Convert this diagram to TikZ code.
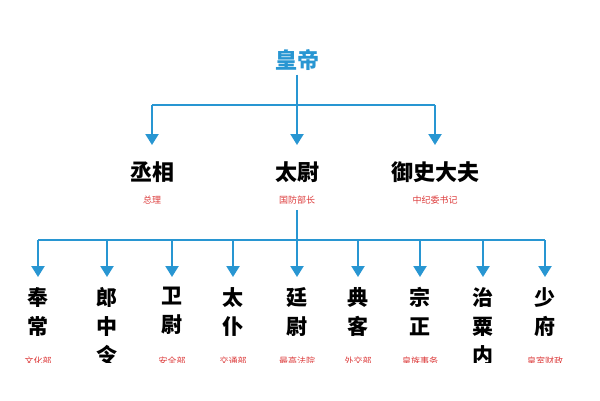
\documentclass[tikz,border=0pt]{standalone}
\usepackage{fontspec}
\setmainfont{Noto Sans CJK SC}
\usetikzlibrary{arrows.meta}
\definecolor{lblue}{RGB}{40,150,210}
\definecolor{lred}{RGB}{220,60,60}
\tikzset{x=1pt,y=-1pt,
 conn/.style={draw=lblue,line width=2.2pt},
 arr/.style={conn,-{Triangle[width=13pt,length=11pt]}},
 title/.style={font=\fontsize{22}{22}\selectfont\bfseries,inner sep=0pt},
 sub/.style={font=\fontsize{9}{9}\selectfont,text=lred,inner sep=0pt},
 vchar/.style={font=\fontsize{21}{29}\selectfont\bfseries,align=center,inner sep=0pt,anchor=north}}
\begin{document}
\begin{tikzpicture}
\useasboundingbox (0,0) rectangle (600,400);
\begin{scope}
\clip (0,0) rectangle (600,362);
\node[title,text=lblue] (hd) at (297,60) {皇帝};
\coordinate (j1) at (297,105);
\coordinate (l1) at (152,105);
\coordinate (r1) at (435,105);
\node[title] (cx) at (152,172) {丞相};
\node[title] (tw) at (297,172) {太尉};
\node[title] (ys) at (435,172) {御史大夫};
\node[sub] at (152,200) {总理};
\node[sub] (twsub) at (297,200) {国防部长};
\node[sub] at (435,200) {中纪委书记};
\draw[conn] (hd.south) ++(0,4) -- (j1);
\draw[conn] (l1) -- (r1);
\draw[arr] (l1) -- ++(0,40);
\draw[arr] (j1) -- ++(0,40);
\draw[arr] (r1) -- ++(0,40);
\coordinate (j2) at (297,240);
\coordinate (l2) at (38,240);
\coordinate (r2) at (545,240);
\draw[conn] (twsub.south) ++(0,6) -- (j2);
\draw[conn] (l2) -- (r2);
\foreach \x/\t/\s [count=\i] in {38/奉\\常/文化部,107/郎\\中\\令/{},172/卫\\尉/安全部,233/太\\仆/交通部,297/廷\\尉/最高法院,358/典\\客/外交部,420/宗\\正/皇族事务,483/治\\粟\\内/{},545/少\\府/皇室财政}{
  \coordinate (t\i) at (\x,240);
  \draw[arr] (t\i) -- ++(0,37);
  \node[vchar] (n\i) at (\x,287) {\t};
  \node[sub] at (\x,361) {\s};
}
\end{scope}
\end{tikzpicture}
\end{document}
